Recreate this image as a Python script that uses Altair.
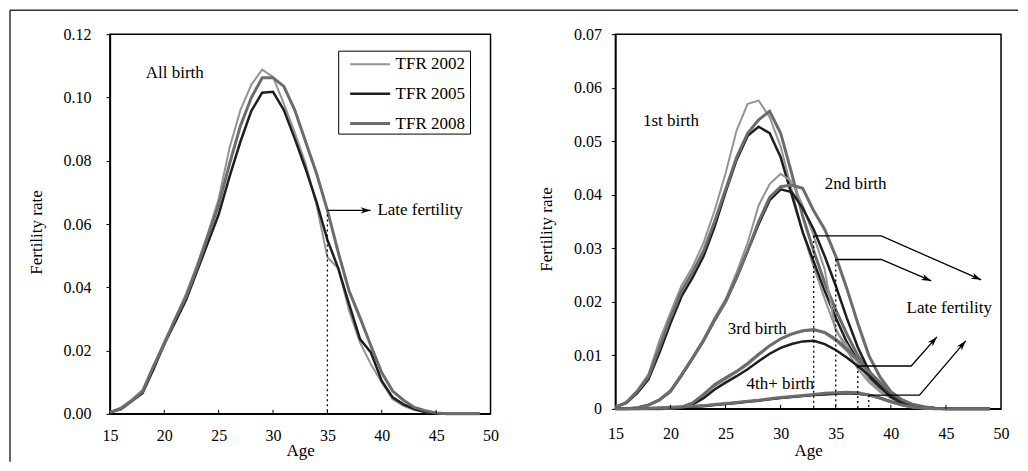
import math
import altair as alt
import pandas as pd

# ---------------- data ----------------
AGES = list(range(15, 50))
SERIES = ["TFR 2002", "TFR 2005", "TFR 2008"]
LINE_COLORS = ["#949494", "#1e1e1e", "#6c6c6c"]
LINE_WIDTHS = [2.0, 3.0, 2.4]

# All births (ages 15..49)
ALL_2002 = [0.0005, 0.002, 0.0045, 0.0075, 0.015, 0.023, 0.030, 0.038, 0.047, 0.057,
            0.068, 0.084, 0.096, 0.104, 0.1088, 0.1065, 0.098, 0.089, 0.079, 0.066,
            0.0495, 0.046, 0.0325, 0.0225, 0.0157, 0.0099, 0.0046, 0.0025, 0.0012, 0.0005,
            0.0002, 0, 0, 0, 0]
ALL_2005 = [0.0005, 0.0015, 0.004, 0.0065, 0.014, 0.022, 0.029, 0.036, 0.045, 0.054,
            0.063, 0.075, 0.086, 0.0957, 0.1015, 0.1018, 0.096, 0.087, 0.0774, 0.067,
            0.055, 0.046, 0.0346, 0.0236, 0.0194, 0.0104, 0.0052, 0.003, 0.0015, 0.0006,
            0.0002, 0, 0, 0, 0]
ALL_2008 = [0.0005, 0.0015, 0.004, 0.007, 0.015, 0.022, 0.030, 0.037, 0.046, 0.056,
            0.066, 0.079, 0.091, 0.0999, 0.1062, 0.1062, 0.1035, 0.096, 0.086, 0.076,
            0.0643, 0.051, 0.0388, 0.0304, 0.0215, 0.013, 0.0072, 0.0043, 0.002, 0.001,
            0.0003, 0, 0, 0, 0]

# 1st births
FIRST_2002 = [0.0003, 0.0012, 0.0035, 0.0065, 0.0128, 0.018, 0.023, 0.0265, 0.031, 0.037,
              0.044, 0.052, 0.057, 0.0576, 0.0545, 0.049, 0.041, 0.033, 0.0265, 0.0205,
              0.015, 0.011, 0.0075, 0.005, 0.0032, 0.002, 0.0012, 0.0006, 0.0003, 0.0001,
              0, 0, 0, 0, 0]
FIRST_2005 = [0.0003, 0.0011, 0.003, 0.0055, 0.0105, 0.016, 0.021, 0.0245, 0.0285, 0.034,
              0.0405, 0.0465, 0.051, 0.0527, 0.0515, 0.047, 0.040, 0.033, 0.0275, 0.022,
              0.017, 0.0125, 0.009, 0.006, 0.004, 0.0025, 0.0014, 0.0007, 0.0003, 0.0001,
              0, 0, 0, 0, 0]
FIRST_2008 = [0.0003, 0.0012, 0.0033, 0.006, 0.0115, 0.017, 0.022, 0.0255, 0.0295, 0.035,
              0.041, 0.047, 0.0515, 0.054, 0.0556, 0.0515, 0.044, 0.036, 0.0295, 0.0235,
              0.0185, 0.014, 0.010, 0.0068, 0.0045, 0.0028, 0.0016, 0.0008, 0.0004, 0.0001,
              0, 0, 0, 0, 0]

# 2nd births
SECOND_2002 = [0, 0, 0.0002, 0.0008, 0.0018, 0.0035, 0.0065, 0.0097, 0.013, 0.017,
               0.0205, 0.0255, 0.031, 0.038, 0.042, 0.0439, 0.0425, 0.038, 0.0323, 0.026,
               0.0145, 0.012, 0.0085, 0.0055, 0.0035, 0.002, 0.001, 0.0005, 0.0002, 0,
               0, 0, 0, 0, 0]
SECOND_2005 = [0, 0, 0.0002, 0.0007, 0.0016, 0.0032, 0.0062, 0.0094, 0.0127, 0.0165,
               0.020, 0.0245, 0.0295, 0.0345, 0.039, 0.041, 0.0405, 0.0375, 0.0335, 0.0285,
               0.023, 0.017, 0.0115, 0.0072, 0.0042, 0.0022, 0.0011, 0.0005, 0.0002, 0,
               0, 0, 0, 0, 0]
SECOND_2008 = [0, 0, 0.0002, 0.0007, 0.0017, 0.0033, 0.0063, 0.0095, 0.0128, 0.0166,
               0.020, 0.0245, 0.0295, 0.035, 0.0395, 0.0415, 0.0418, 0.0412, 0.037, 0.0335,
               0.0285, 0.0225, 0.016, 0.010, 0.006, 0.0032, 0.0016, 0.0007, 0.0003, 0.0001,
               0, 0, 0, 0, 0]

# 3rd births
THIRD_2002 = [0, 0, 0, 0, 0, 0.0001, 0.0003, 0.001, 0.0025, 0.0042,
              0.0055, 0.0068, 0.0082, 0.010, 0.0117, 0.013, 0.0139, 0.0145, 0.0147, 0.0141,
              0.0127, 0.0108, 0.0088, 0.0066, 0.0046, 0.0028, 0.0015, 0.0007, 0.0003, 0.0001,
              0, 0, 0, 0, 0]
THIRD_2005 = [0, 0, 0, 0, 0, 0.0001, 0.0002, 0.0008, 0.002, 0.0036,
              0.0049, 0.0061, 0.0074, 0.0089, 0.0103, 0.0114, 0.0121, 0.0126, 0.0127, 0.0121,
              0.011, 0.0096, 0.008, 0.0063, 0.0046, 0.0029, 0.0015, 0.0007, 0.0002, 0,
              0, 0, 0, 0, 0]
THIRD_2008 = [0, 0, 0, 0, 0, 0.0001, 0.0003, 0.0011, 0.0027, 0.0045,
              0.0058, 0.007, 0.0085, 0.0102, 0.0118, 0.0131, 0.014, 0.0146, 0.0148, 0.0143,
              0.013, 0.0112, 0.0092, 0.007, 0.005, 0.0031, 0.0017, 0.0008, 0.0003, 0.0001,
              0, 0, 0, 0, 0]

# 4th+ births
FOURTH_2002 = [0, 0, 0, 0.0001, 0.0002, 0.0003, 0.0004, 0.0005, 0.0006, 0.0008,
               0.001, 0.0012, 0.0014, 0.0016, 0.0018, 0.002, 0.0022, 0.0024, 0.0026, 0.0028,
               0.0029, 0.003, 0.0028, 0.0025, 0.0019, 0.0012, 0.0007, 0.0003, 0.0001, 0,
               0, 0, 0, 0, 0]
FOURTH_2005 = [0, 0, 0, 0.0001, 0.0001, 0.0002, 0.0003, 0.0004, 0.0005, 0.0007,
               0.0009, 0.0011, 0.0013, 0.0015, 0.0018, 0.002, 0.0022, 0.0024, 0.0026, 0.0027,
               0.0028, 0.0029, 0.0028, 0.0026, 0.0021, 0.0014, 0.0008, 0.0004, 0.0001, 0,
               0, 0, 0, 0, 0]
FOURTH_2008 = [0, 0, 0, 0.0001, 0.0002, 0.0003, 0.0004, 0.0005, 0.0006, 0.0008,
               0.001, 0.0012, 0.0014, 0.0016, 0.0019, 0.0021, 0.0023, 0.0025, 0.0027, 0.0029,
               0.003, 0.0031, 0.003, 0.0026, 0.002, 0.0013, 0.0007, 0.0003, 0.0001, 0,
               0, 0, 0, 0, 0]

X_TICKS = [15, 20, 25, 30, 35, 40, 45, 50]
INNER_X_TICKS = [20, 25, 30, 35, 40, 45]
LEFT_Y_TICKS = [0, 0.02, 0.04, 0.06, 0.08, 0.10, 0.12]
RIGHT_Y_TICKS = [0, 0.01, 0.02, 0.03, 0.04, 0.05, 0.06, 0.07]

# annotations (data units)
LEFT_LABELS = ["All birth", "Late fertility"]
LEFT_LABEL_AGE = [18.3, 39.6]
LEFT_LABEL_VAL = [0.1077, 0.0643]
LEFT_ARROW_AGE = [35, 38.98]
LEFT_ARROW_VAL = [0.0643, 0.0643]
LEFT_DOT_AGE = [35]
LEFT_DOT_TOP = [0.063]

RIGHT_LABELS = ["1st birth", "2nd birth", "3rd birth", "4th+ birth", "Late fertility"]
RIGHT_LABEL_AGE = [17.5, 34.0, 25.2, 26.9, 41.43]
RIGHT_LABEL_VAL = [0.0538, 0.0420, 0.0149, 0.0047, 0.0189]
RIGHT_ARROWS_AGE = [[33, 39.13, 48.2], [35, 39.13, 43.67], [37, 41.85, 44.18], [38, 42.6, 46.8]]
RIGHT_ARROWS_VAL = [[0.0323, 0.0323, 0.0241], [0.0279, 0.0279, 0.0239],
                    [0.0080, 0.0080, 0.01344], [0.00256, 0.00256, 0.0127]]
RIGHT_DOT_AGE = [33, 35, 37, 38]
RIGHT_DOT_TOP = [0.0323, 0.0279, 0.0080, 0.00256]

# ---------------- layout ----------------
W1, H1 = 381, 380
W2, H2 = 386, 375
Y1MAX, Y2MAX = 0.12, 0.07
FONT = "Liberation Serif"
TXT = 17
ARROW_SHAPE = "M0,0L-1,-0.32L-0.72,0L-1,0.32Z"

xscale = alt.Scale(domain=[15, 50], nice=False, zero=False)


def long_df(maps, parity=""):
    rows = []
    for name, vals in maps:
        for a, v in zip(AGES, vals):
            rows.append({"age": a, "rate": v, "series": name, "curve": parity + name})
    return rows


left_df = pd.DataFrame(long_df([("TFR 2002", ALL_2002), ("TFR 2005", ALL_2005), ("TFR 2008", ALL_2008)]))
right_rows = []
for p, maps in [("1", [FIRST_2002, FIRST_2005, FIRST_2008]),
                ("2", [SECOND_2002, SECOND_2005, SECOND_2008]),
                ("3", [THIRD_2002, THIRD_2005, THIRD_2008]),
                ("4", [FOURTH_2002, FOURTH_2005, FOURTH_2008])]:
    right_rows += long_df(list(zip(SERIES, maps)), p)
right_df = pd.DataFrame(right_rows)

legend_cfg = dict(title=None, orient="none", legendX=239, legendY=9, direction="vertical",
                  symbolType="stroke", symbolSize=1600, labelFont=FONT, labelFontSize=TXT,
                  labelColor="black", padding=0, rowPadding=-12.5, labelOffset=4)


def axes(ymax, yticks, w, h, ylabpad, ytitlex, ytitley, xlabpad, xtitley, label_expr=None):
    yax = dict(values=yticks, format=".2f", tickSize=4, tickColor="black", labelPadding=ylabpad,
               title="Fertility rate", titleX=ytitlex, titleY=ytitley, titleAlign="center",
               titleBaseline="middle", titleAngle=270, labelFlush=False)
    if label_expr:
        yax["labelExpr"] = label_expr
    xax = dict(values=X_TICKS, ticks=False, labelPadding=xlabpad, title="Age", labelFlush=False,
               titleY=xtitley, titleBaseline="middle", titleX=w / 2, titleAlign="center")
    x = alt.X("age:Q", scale=xscale, axis=alt.Axis(**xax))
    y = alt.Y("rate:Q", scale=alt.Scale(domain=[0, ymax], nice=False), axis=alt.Axis(**yax))
    return x, y


# ---------- left chart ----------
lx, ly = axes(Y1MAX, LEFT_Y_TICKS, W1, H1, 15, -73, 198, 14, 37)
legend_box = alt.Chart(pd.DataFrame({"k": [0]})).mark_rect(
    fill="white", stroke="black", strokeWidth=1).encode(
    x=alt.value(229), x2=alt.value(361), y=alt.value(17), y2=alt.value(100))

left_lines = alt.Chart(left_df).mark_line(strokeJoin="miter").encode(
    x=lx, y=ly,
    color=alt.Color("series:N", scale=alt.Scale(domain=SERIES, range=LINE_COLORS), legend=alt.Legend(**legend_cfg)),
    strokeWidth=alt.StrokeWidth("series:N", scale=alt.Scale(domain=SERIES, range=LINE_WIDTHS), legend=alt.Legend(**legend_cfg)),
    detail="curve:N",
)

ldot = alt.Chart(pd.DataFrame({"age": LEFT_DOT_AGE, "top": LEFT_DOT_TOP, "zero": [0]})).mark_rule(
    color="black", strokeDash=[2, 3], strokeWidth=1.3).encode(
    x=alt.X("age:Q", scale=xscale), y=alt.Y("top:Q"), y2="zero:Q")

larrow = alt.Chart(pd.DataFrame({"age": LEFT_ARROW_AGE, "rate": LEFT_ARROW_VAL, "k": [0, 1]})).mark_line(
    color="black", strokeWidth=1.3).encode(x=alt.X("age:Q", scale=xscale), y="rate:Q", order="k:Q")


def px_l(a):
    return (a - 15) * W1 / 35.0


def py_l(v):
    return H1 * (1 - v / Y1MAX)


def px_r(a):
    return (a - 15) * W2 / 35.0


def py_r(v):
    return H2 * (1 - v / Y2MAX)


lang = math.degrees(math.atan2(py_l(LEFT_ARROW_VAL[1]) - py_l(LEFT_ARROW_VAL[0]),
                               px_l(LEFT_ARROW_AGE[1]) - px_l(LEFT_ARROW_AGE[0]))) % 360
lhead = alt.Chart(pd.DataFrame({"age": [LEFT_ARROW_AGE[-1]], "rate": [LEFT_ARROW_VAL[-1]], "ang": [lang]})).mark_point(
    shape=ARROW_SHAPE, size=400, filled=True, color="black", opacity=1).encode(
    x=alt.X("age:Q", scale=xscale), y="rate:Q", angle=alt.Angle("ang:Q", scale=None))

ltext = alt.Chart(pd.DataFrame({"age": LEFT_LABEL_AGE, "rate": LEFT_LABEL_VAL, "t": LEFT_LABELS})).mark_text(
    align="left", baseline="middle", font=FONT, fontSize=TXT, color="black").encode(
    x=alt.X("age:Q", scale=xscale), y="rate:Q", text="t:N")

lticks = alt.Chart(pd.DataFrame({"age": INNER_X_TICKS})).mark_rule(color="black", strokeWidth=1).encode(
    x=alt.X("age:Q", scale=xscale), y=alt.value(H1), y2=alt.value(H1 - 4))

frame_left = alt.Chart(pd.DataFrame({"k": [0]})).mark_rule(color="#333333", strokeWidth=1.5).encode(
    x=alt.value(-100), y=alt.value(-24), y2=alt.value(428))
frame_top = alt.Chart(pd.DataFrame({"k": [0]})).mark_rule(color="#333333", strokeWidth=1.5).encode(
    x=alt.value(-100), x2=alt.value(909), y=alt.value(-24))

left = alt.layer(legend_box, left_lines, ldot, larrow, lhead, ltext, lticks, frame_left, frame_top).properties(width=W1, height=H1)

# ---------- right chart ----------
rx, ry = axes(Y2MAX, RIGHT_Y_TICKS, W2, H2, 10, -69, 195, 17, 42,
              label_expr="datum.value == 0 ? '0' : format(datum.value, '.2f')")
right_lines = alt.Chart(right_df).mark_line(strokeJoin="miter").encode(
    x=rx, y=ry,
    color=alt.Color("series:N", scale=alt.Scale(domain=SERIES, range=LINE_COLORS), legend=None),
    strokeWidth=alt.StrokeWidth("series:N", scale=alt.Scale(domain=SERIES, range=LINE_WIDTHS), legend=None),
    detail="curve:N",
)

rdot = alt.Chart(pd.DataFrame({"age": RIGHT_DOT_AGE, "top": RIGHT_DOT_TOP, "zero": [0] * len(RIGHT_DOT_AGE)})).mark_rule(
    color="black", strokeDash=[2, 3], strokeWidth=1.3).encode(
    x=alt.X("age:Q", scale=xscale), y=alt.Y("top:Q"), y2="zero:Q")

arrow_rows, head_rows = [], []
for i, (ag, vl) in enumerate(zip(RIGHT_ARROWS_AGE, RIGHT_ARROWS_VAL)):
    for k, (a, v) in enumerate(zip(ag, vl)):
        arrow_rows.append({"id": i, "k": k, "age": a, "rate": v})
    ang = math.degrees(math.atan2(py_r(vl[-1]) - py_r(vl[-2]), px_r(ag[-1]) - px_r(ag[-2]))) % 360
    head_rows.append({"age": ag[-1], "rate": vl[-1], "ang": ang})

rarrow = alt.Chart(pd.DataFrame(arrow_rows)).mark_line(color="black", strokeWidth=1.3).encode(
    x=alt.X("age:Q", scale=xscale), y="rate:Q", detail="id:N", order="k:Q")
rhead = alt.Chart(pd.DataFrame(head_rows)).mark_point(
    shape=ARROW_SHAPE, size=400, filled=True, color="black", opacity=1).encode(
    x=alt.X("age:Q", scale=xscale), y="rate:Q", angle=alt.Angle("ang:Q", scale=None))

rtext = alt.Chart(pd.DataFrame({"age": RIGHT_LABEL_AGE, "rate": RIGHT_LABEL_VAL, "t": RIGHT_LABELS})).mark_text(
    align="left", baseline="middle", font=FONT, fontSize=TXT, color="black").encode(
    x=alt.X("age:Q", scale=xscale), y="rate:Q", text="t:N")

rticks = alt.Chart(pd.DataFrame({"age": INNER_X_TICKS})).mark_rule(color="black", strokeWidth=1).encode(
    x=alt.X("age:Q", scale=xscale), y=alt.value(H2), y2=alt.value(H2 - 4))

right = alt.layer(right_lines, rdot, rarrow, rhead, rtext, rticks).properties(width=W2, height=H2)

chart = alt.hconcat(left, right, spacing=125, bounds="flush").resolve_scale(
    color="independent", strokeWidth="independent", y="independent"
).properties(
    autosize=alt.AutoSizeParams(type="pad"),
    padding=0,
    background="white",
).configure_view(
    stroke="black", strokeWidth=1.5
).configure_axis(
    labelFont=FONT, labelFontSize=16, labelColor="black",
    titleFont=FONT, titleFontSize=TXT, titleColor="black", titleFontWeight="normal",
    domainColor="black", domainWidth=1.5, grid=False,
)

chart.save("out.html", embed_options={"renderer": "svg", "actions": False})
